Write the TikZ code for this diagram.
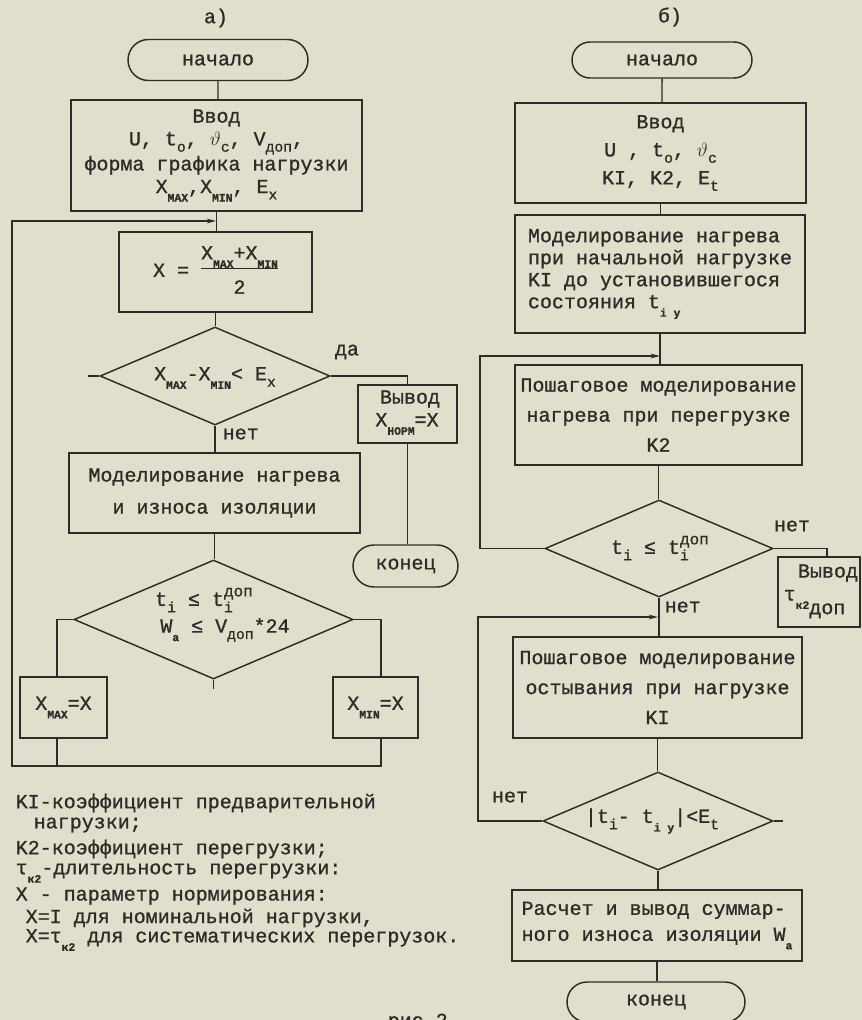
\documentclass[tikz,border=0pt]{standalone}
\usepackage{fontspec}
\setmainfont{Liberation Mono}[FakeBold=1]
\usetikzlibrary{shapes.geometric,shapes.misc,arrows.meta}

\definecolor{paper}{RGB}{226,222,205}
\definecolor{ink}{RGB}{45,44,40}

\newcommand{\subtx}[1]{\raisebox{-.6ex}{\fontsize{11}{11}\selectfont #1}}
\newcommand{\subcap}[1]{\raisebox{-.8ex}{\fontsize{8.5}{9}\selectfont\bfseries #1}}
\newcommand{\suptx}[1]{\raisebox{.9ex}{\fontsize{12}{12}\selectfont #1}}
\newcommand{\supsub}[2]{\rlap{\subtx{#2}}\suptx{#1}}

\tikzset{every picture/.style={line width=1.1pt}}
\tikzset{
  blk/.style={draw=ink, rectangle, inner sep=0pt, align=center, text=ink},
  term/.style={draw=ink, rounded rectangle, inner sep=0pt, text=ink},
  dia/.style={draw=ink, diamond, inner sep=0pt},
  txt/.style={text=ink, inner sep=0pt, align=center},
  loop arrow/.style={-{Stealth[length=7pt,width=3.5pt]}},
}

\begin{document}
\begin{tikzpicture}[x=0.75pt,y=0.75pt,yscale=-1,xscale=1,font=\fontsize{15}{17}\selectfont,draw=ink]
\fill[paper] (0,0) rectangle (862,1020);
\useasboundingbox (0,0) rectangle (862,1020);

%%%%%%%%%%%%%%%% scheme a)
% Text Node
\node[txt] (tita) at (216,18) {а)};

%Shape: Terminator
\node[term, minimum width=135pt, minimum height=30.75pt] (start1) at (218,60) {начало};
%Shape: Rectangle
\node[blk, minimum width=218.25pt, minimum height=83.25pt] (in1) at (216.5,155.5)
  {Ввод\\ U, t\subtx{o}, $\vartheta$\subtx{c}, V\subtx{доп},\\ форма графика нагрузки\\ X\subcap{MAX},X\subcap{MIN}, E\subtx{x}};
%Shape: Rectangle
\node[blk, minimum width=144.75pt, minimum height=60pt] (calc1) at (215.5,272)
  {X = \begin{tabular}{@{}c@{}}X\subcap{MAX}+X\subcap{MIN}\\[1pt]\hline\rule{0pt}{19pt}2\end{tabular}};
%Shape: Diamond
\node[dia, minimum width=172.5pt, minimum height=73.5pt] (dec1) at (215,376) {};
\node[txt] (dec1t) at (215,378) {X\subcap{MAX}-X\subcap{MIN}< E\subtx{x}};
%Shape: Rectangle
\node[blk, minimum width=74.25pt, minimum height=43.5pt] (out1) at (407.5,414) {};
\node[txt] (out1a) at (410,399) {Вывод};
\node[txt] (out1b) at (407,424) {X\subcap{НОРМ}=X};
%Shape: Terminator
\node[term, minimum width=78.75pt, minimum height=31.5pt] (end1) at (405.5,566) {конец};
%Shape: Rectangle
\node[blk, minimum width=218.25pt, minimum height=60pt, font=\fontsize{15}{24}\selectfont] (sim1) at (214.5,493)
  {Моделирование нагрева\\ и износа изоляции};
%Shape: Diamond
\node[dia, minimum width=209.25pt, minimum height=89.25pt] (dec2) at (213.5,619.5) {};
\node[txt] (dec2a) at (204,600) {t\subtx{i} ≤ t\supsub{доп}{i}};
\node[txt] (dec2b) at (225,630) {W\subcap{a} ≤ V\subtx{доп}*24};
%Shape: Rectangle
\node[blk, minimum width=65.25pt, minimum height=45.75pt] (xmax) at (63.5,707.5) {X\subcap{MAX}=X};
\node[blk, minimum width=63.75pt, minimum height=45.75pt] (xmin) at (375.5,707.5) {X\subcap{MIN}=X};

% Text Node
\node[txt] (yes1) at (347,352) {да};
\node[txt, anchor=west] (no1) at (222,434) {нет};

\coordinate (lbot) at (12,766);
\coordinate (ljoin) at (216,221);
\coordinate (stub1) at (88,376);
\coordinate (stub2) at (213.5,689);

%Straight Lines
\draw (start1) -- (start1 |- in1.north);
\draw (in1.south) -- (in1.south |- calc1.north);
\draw (calc1.south) -- (calc1.south |- dec1.north);
\draw (dec1.south) -- (dec1.south |- sim1.north);
\draw (sim1.south) -- (sim1.south |- dec2.north);
\draw (dec1.east) -| (out1.north);
\draw (out1.south) -- (out1.south |- end1.north);
\draw (dec2.west) -| ([xshift=-5pt]xmax.north);
\draw (dec2.east) -| ([xshift=4pt]xmin.north);
\draw ([xshift=-5pt]xmax.south) -- ([xshift=-5pt]xmax.south |- lbot);
\draw[loop arrow] ([xshift=4pt]xmin.south) |- (lbot) |- (ljoin);
\draw (dec1.west) -- (stub1);
\draw (dec2.south) -- (stub2);

%%%%%%%%%%%%%%%% scheme b)
% Text Node
\node[txt] (titb) at (670,17) {б)};

%Shape: Terminator
\node[term, minimum width=135pt, minimum height=27pt] (start2) at (662,60) {начало};
%Shape: Rectangle
\node[blk, minimum width=218.25pt, minimum height=75pt, font=\fontsize{15}{21}\selectfont] (in2) at (660.5,153)
  {Ввод\\ U , t\subtx{o}, $\vartheta$\subtx{c}\\ KI, K2, E\subtx{t}};
\node[blk, minimum width=217.5pt, minimum height=88.5pt, font=\fontsize{15}{16.5}\selectfont, align=left] (heat1) at (660,274)
  {Моделирование нагрева\\ при начальной нагрузке\\ KI до установившегося\\ состояния t\subcap{i y}};
\node[blk, minimum width=215.25pt, minimum height=75pt, font=\fontsize{15}{22.5}\selectfont] (step1) at (658.5,415)
  {Пошаговое моделирование\\ нагрева при перегрузке\\ K2};
%Shape: Diamond
\node[dia, minimum width=171pt, minimum height=72.75pt] (dec3) at (659,548.5) {};
\node[txt] (dec3t) at (660,548) {t\subtx{i} ≤ t\supsub{доп}{i}};
%Shape: Rectangle
\node[blk, minimum width=61.5pt, minimum height=52.5pt] (out2) at (819,592) {};
\node[txt] (out2a) at (828,573) {Вывод};
\node[txt, anchor=west] (out2b) at (783,604) {τ\subcap{к2}\raisebox{-1.3ex}{доп}};
\node[blk, minimum width=216.75pt, minimum height=75.75pt, font=\fontsize{15}{22.5}\selectfont] (step2) at (657.5,687.5)
  {Пошаговое моделирование\\ остывания при нагрузке\\ KI};
%Shape: Diamond
\node[dia, minimum width=172.5pt, minimum height=73.5pt] (dec4) at (658,821) {};
\node[txt] (dec4t) at (652,821) {|t\subtx{i}- t\subcap{i y}|<E\subtx{t}};
%Shape: Rectangle
\node[blk, minimum width=217.5pt, minimum height=53.25pt, font=\fontsize{15}{19.5}\selectfont, align=left] (calc2) at (657,925.5)
  {Расчет и вывод суммар-\\ ного износа изоляции W\subcap{a}};
%Shape: Terminator
\node[term, minimum width=133.5pt, minimum height=30pt] (end2) at (656,1002) {конец};

% Text Node
\node[txt] (no2) at (792,526) {нет};
\node[txt, anchor=west] (no3) at (664,607) {нет};
\node[txt] (no4) at (510,797) {нет};

\coordinate (rl1) at (480,548.5);
\coordinate (rjoin1) at (660,356);
\coordinate (rl2) at (478,821);
\coordinate (rjoin2) at (658,617);
\coordinate (stub3) at (783,821);

%Straight Lines
\draw (start2) -- (start2 |- in2.north);
\draw (in2.south) -- (in2.south |- heat1.north);
\draw (heat1.south) -- (heat1.south |- step1.north);
\draw (step1.south) -- (step1.south |- dec3.north);
\draw (dec3.south) -- (dec3.south |- step2.north);
\draw (step2.south) -- (step2.south |- dec4.north);
\draw (dec4.south) -- (dec4.south |- calc2.north);
\draw (calc2.south) -- (calc2.south |- end2.north);
\draw (dec3.east) -| ([xshift=6pt]out2.north);
\draw[loop arrow] (dec3.west) -- (rl1) |- (rjoin1);
\draw[loop arrow] (dec4.west) -- (rl2) |- (rjoin2);
\draw (dec4.east) -- (stub3);

%%%%%%%%%%%%%%%% legend
% Text Node
\node[txt, anchor=west] (leg1) at (15,803) {KI-коэффициент предварительной};
\node[txt, anchor=west] (leg2) at (33,825) {нагрузки;};
\node[txt, anchor=west] (leg3) at (15,849) {K2-коэффициент перегрузки;};
\node[txt, anchor=west] (leg4) at (15,873) {τ\subcap{к2}-длительность перегрузки:};
\node[txt, anchor=west] (leg5) at (15,896) {X - параметр нормирования:};
\node[txt, anchor=west] (leg6) at (25,918) {X=I для номинальной нагрузки,};
\node[txt, anchor=west] (leg7) at (25,940) {X=τ\subcap{к2} для систематических перегрузок.};
\node[txt, anchor=base west] (fig) at (387,1027) {рис.2};

\end{tikzpicture}
\end{document}
